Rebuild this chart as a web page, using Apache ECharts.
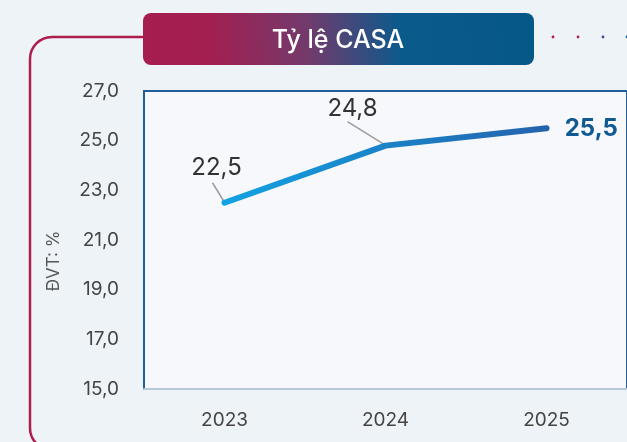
<!DOCTYPE html>
<html>
<head>
<meta charset="utf-8">
<script src="https://cdn.jsdelivr.net/npm/echarts@6/dist/echarts.min.js"></script>
<style>
html,body{margin:0;padding:0;}
#c{width:627px;height:442px;}
</style>
</head>
<body>
<div id="c"></div>
<script>
var titleText = 'Tỷ lệ CASA';
var unitLabel = 'ĐVT: %';
var categories = ['2023', '2024', '2025'];
var casaValues = [22.5, 24.8, 25.5];
var yMin = 15, yMax = 27, yStep = 2;

var FONT = 'Inter, "Open Sans", sans-serif';
var chart = echarts.init(document.getElementById('c'), null, {renderer: 'canvas'});

function fmt(v) { return v.toFixed(1).replace('.', ','); }
function lin(x, y, x2, y2, stops) {
  return {type: 'linear', x: x, y: y, x2: x2, y2: y2, global: false, colorStops: stops};
}

// label offsets (pixels) and leader-line offsets relative to each point
var labelOffsets = [[-8, -18], [-33, -20], [13, 1]];
var leaderOffsets = [[[-12, -20], [-1, -2]], [[-38, -24], [-1, -1]], null];

var seriesData = casaValues.map(function (v, i) {
  var last = i === casaValues.length - 1;
  return {
    value: v,
    label: last ? {
      show: true, position: 'right', offset: labelOffsets[i], fontSize: 24, fontWeight: 'bold',
      color: '#0f5a93', fontFamily: FONT
    } : {
      show: true, position: 'top', offset: labelOffsets[i], fontSize: 24, color: '#333333',
      fontFamily: FONT
    }
  };
});

var leaderData = [];
casaValues.forEach(function (v, i) { if (leaderOffsets[i]) leaderData.push([i, v]); });

var frameStyle = {stroke: '#ad1d4e', lineWidth: 2.5, fill: null};

chart.setOption({
  backgroundColor: '#eef3f7',
  animation: false,
  grid: {left: 144, right: -2, top: 91, bottom: 53, show: true,
    backgroundColor: 'rgba(255,255,255,0.45)', borderColor: '#1f609b', borderWidth: 2},
  xAxis: {
    type: 'category', data: categories, boundaryGap: true,
    axisLine: {show: true, lineStyle: {color: '#b9c8d8', width: 2}},
    axisTick: {show: false},
    axisLabel: {color: '#444444', fontSize: 19, margin: 22, fontFamily: FONT}
  },
  yAxis: {
    type: 'value', min: yMin, max: yMax, interval: yStep,
    name: unitLabel, nameLocation: 'middle', nameGap: 82, nameRotate: 90,
    nameTextStyle: {color: '#555555', fontSize: 17, fontFamily: FONT, padding: [0, 42, 0, 0]},
    axisLine: {show: true, lineStyle: {color: '#1f609b', width: 2}},
    axisTick: {show: false},
    splitLine: {show: false},
    axisLabel: {color: '#444444', fontSize: 19, margin: 25, fontFamily: FONT,
      formatter: function (v) { return fmt(v); }}
  },
  series: [{
    type: 'line',
    data: seriesData,
    symbol: 'circle', symbolSize: 0.5, showSymbol: true,
    itemStyle: {color: 'rgba(0,0,0,0)'},
    lineStyle: {width: 6, cap: 'round', join: 'round',
      color: lin(0, 0, 1, 0, [
        {offset: 0, color: '#11a3e2'},
        {offset: 1, color: '#2462ad'}
      ])},
    label: {formatter: function (p) { return fmt(p.value); }},
    z: 5
  }, {
    type: 'custom',
    data: leaderData,
    z: 4,
    silent: true,
    renderItem: function (params, api) {
      var idx = api.value(0);
      var p = api.coord([idx, api.value(1)]);
      var o = leaderOffsets[idx];
      return {type: 'line',
        shape: {x1: p[0] + o[0][0], y1: p[1] + o[0][1], x2: p[0] + o[1][0], y2: p[1] + o[1][1]},
        style: {stroke: '#9c9c9c', lineWidth: 1.5}};
    }
  }],
  graphic: [
    {type: 'line', z: 1, silent: true, shape: {x1: 143, y1: 37, x2: 52, y2: 37}, style: frameStyle},
    {type: 'arc', z: 1, silent: true, shape: {cx: 52, cy: 59, r: 22, startAngle: Math.PI, endAngle: Math.PI * 1.5, clockwise: true}, style: frameStyle},
    {type: 'line', z: 1, silent: true, shape: {x1: 30, y1: 59, x2: 30, y2: 428}, style: frameStyle},
    {type: 'arc', z: 1, silent: true, shape: {cx: 52, cy: 428, r: 22, startAngle: Math.PI * 0.5, endAngle: Math.PI, clockwise: true}, style: frameStyle},
    {type: 'rect', z: 10, shape: {x: 143, y: 13, width: 391, height: 52, r: 8},
      style: {fill: lin(0, 0.8, 1, 0.2, [
        {offset: 0, color: '#a61d50'},
        {offset: 0.17, color: '#a31f50'},
        {offset: 0.42, color: '#733a6c'},
        {offset: 0.66, color: '#0b5a8c'},
        {offset: 1, color: '#065889'}
      ])}},
    {type: 'text', z: 11, style: {text: titleText, x: 338, y: 40, align: 'center', verticalAlign: 'middle',
      fill: '#ffffff', fontSize: 25, fontWeight: 500, fontFamily: FONT}},
    {type: 'circle', z: 10, shape: {cx: 553, cy: 37, r: 1.4}, style: {fill: '#b01e4e'}},
    {type: 'circle', z: 10, shape: {cx: 578, cy: 37, r: 1.4}, style: {fill: '#a52555'}},
    {type: 'circle', z: 10, shape: {cx: 603, cy: 37, r: 1.4}, style: {fill: '#3b4d8c'}},
    {type: 'circle', z: 10, shape: {cx: 627, cy: 37, r: 1.4}, style: {fill: '#1f609b'}}
  ]
});
</script>
</body>
</html>
